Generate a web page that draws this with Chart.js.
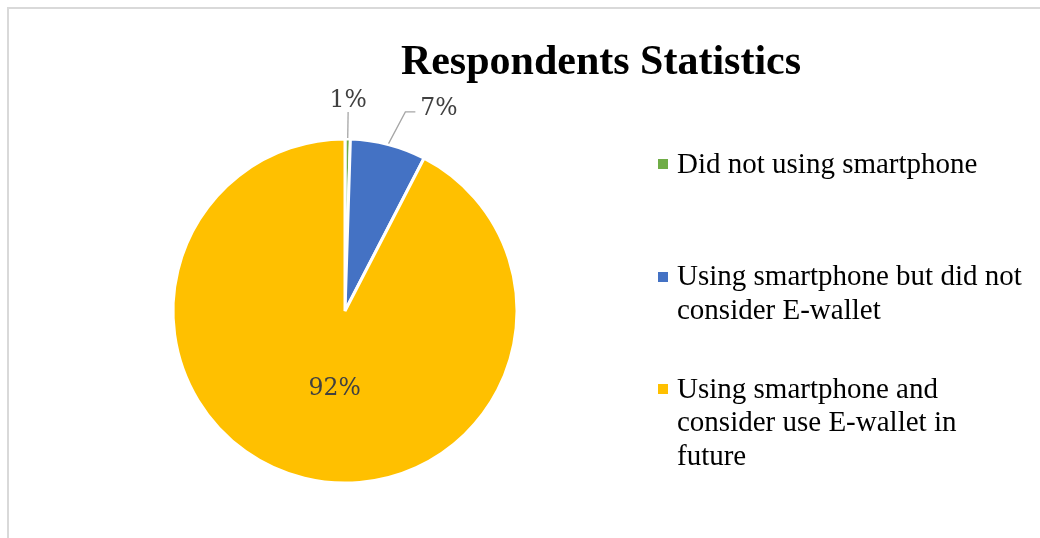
<!DOCTYPE html>
<html>
<head>
<meta charset="utf-8">
<script src="https://cdn.jsdelivr.net/npm/chart.js@4.4.1/dist/chart.umd.min.js"></script>
<style>
  html, body { margin: 0; padding: 0; background: #ffffff; }
  #wrap { position: relative; width: 1040px; height: 538px; overflow: hidden; background: #fff; }
  #frame { position: absolute; left: 7px; top: 7px; width: 1100px; height: 600px;
           border-top: 2px solid #d9d9d9; border-left: 2px solid #d9d9d9; box-sizing: border-box; }
  #c { position: absolute; left: 0; top: 0; }
  #title { position: absolute; left: 0; top: 0; width: 100%; height: 100%; pointer-events: none; }
  #title span { position: absolute; left: 601px; top: 72px; transform: translate(-50%, -78%);
                font-family: "Liberation Serif", "Times New Roman", serif; font-weight: bold;
                font-size: 42px; color: #000; white-space: nowrap; line-height: 1; }
  #legend { position: absolute; left: 658px; top: 146.5px; }
  .item { position: relative; height: 112.5px; }
  .box { position: absolute; left: 0; top: 12.5px; width: 10px; height: 10px; }
  .txt { position: absolute; left: 19px; top: 0; width: 350px;
         font-family: "Liberation Serif", "Times New Roman", serif; font-size: 29px;
         line-height: 33.5px; color: #000; }
</style>
</head>
<body>
<div id="wrap">
  <div id="frame"></div>
  <canvas id="c" width="1040" height="538"></canvas>
  <div id="title"><span id="titleText"></span></div>
  <div id="legend"></div>
</div>
<script>
const chartTitle = "Respondents Statistics";
const categories = [
  "Did not using smartphone",
  "Using smartphone but did not consider E-wallet",
  "Using smartphone and consider use E-wallet in future"
];
const shares = [0.5, 7.1, 92.4];
const sliceColors = ["#70AD47", "#4472C4", "#FFC000"];

document.getElementById('titleText').textContent = chartTitle;

// HTML legend built from the data arrays
const legendEl = document.getElementById('legend');
categories.forEach((name, i) => {
  const it = document.createElement('div'); it.className = 'item';
  const bx = document.createElement('div'); bx.className = 'box'; bx.style.background = sliceColors[i];
  const tx = document.createElement('div'); tx.className = 'txt'; tx.textContent = name;
  it.appendChild(bx); it.appendChild(tx); legendEl.appendChild(it);
});

const labelPlugin = {
  id: 'pieLabels',
  afterDatasetsDraw(chart) {
    const ctx = chart.ctx;
    const meta = chart.getDatasetMeta(0);
    const data = chart.data.datasets[0].data;
    const total = data.reduce((a, b) => a + b, 0);
    ctx.save();
    ctx.font = '23.5px "DejaVu Serif", serif';
    ctx.fillStyle = '#404040';
    ctx.strokeStyle = '#a6a6a6';
    ctx.lineWidth = 1.3;
    meta.data.forEach((arc, i) => {
      const p = arc.getProps(['x', 'y', 'startAngle', 'endAngle', 'outerRadius'], true);
      const mid = (p.startAngle + p.endAngle) / 2;
      const r = p.outerRadius;
      const txt = Math.round(data[i] / total * 100) + '%';
      const frac = data[i] / total;
      const cx = Math.cos(mid), sy = Math.sin(mid);
      if (frac > 0.15) {
        const d = r * 0.45;
        ctx.textAlign = 'center'; ctx.textBaseline = 'middle';
        ctx.fillText(txt, p.x + cx * d + 8, p.y + sy * d + 3);
      } else {
        const sx0 = p.x + cx * (r + 1), sy0 = p.y + sy * (r + 1);
        if (Math.abs(cx) < 0.1) {
          const e = r + 27;
          const ex = p.x + cx * e, ey = p.y + sy * e;
          ctx.beginPath(); ctx.moveTo(sx0, sy0); ctx.lineTo(ex, ey); ctx.stroke();
          ctx.textAlign = 'center'; ctx.textBaseline = 'bottom';
          ctx.fillText(txt, ex, ey + 1);
        } else {
          const e = r + 36;
          const a2 = mid + 0.04 * Math.sign(cx);
          const ex = p.x + Math.cos(a2) * e, ey = p.y + Math.sin(a2) * e;
          const tx = ex + 10 * Math.sign(cx);
          ctx.beginPath(); ctx.moveTo(sx0, sy0); ctx.lineTo(ex, ey); ctx.lineTo(tx, ey); ctx.stroke();
          ctx.textAlign = cx > 0 ? 'left' : 'right'; ctx.textBaseline = 'middle';
          ctx.fillText(txt, tx + 5 * Math.sign(cx), ey - 3);
        }
      }
    });
    ctx.restore();
  }
};

new Chart(document.getElementById('c'), {
  type: 'pie',
  data: {
    labels: categories,
    datasets: [{
      data: shares,
      backgroundColor: sliceColors,
      borderColor: '#ffffff',
      borderWidth: 3,
      hoverOffset: 0,
      offset: 0
    }]
  },
  options: {
    responsive: false,
    animation: false,
    radius: 172,
    layout: { padding: { left: 171, right: 521, top: 137, bottom: 53 } },
    plugins: {
      legend: { display: false },
      title: { display: false },
      tooltip: { enabled: false }
    }
  },
  plugins: [labelPlugin]
});
</script>
</body>
</html>
